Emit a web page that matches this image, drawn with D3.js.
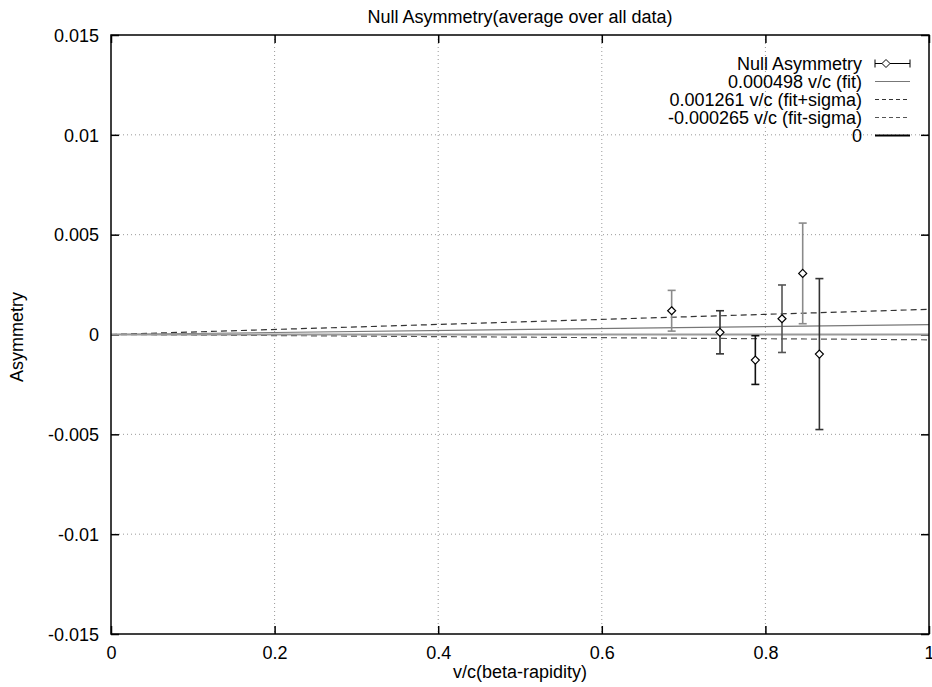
<!DOCTYPE html>
<html>
<head>
<meta charset="utf-8">
<script src="https://cdn.jsdelivr.net/npm/d3@7"></script>
<style>
  body { margin: 0; background: #fff; }
  svg { display: block; font-family: "Liberation Sans", Arial, Helvetica, sans-serif; }
</style>
</head>
<body>
<div id="chart"></div>
<script>
// data
const velocity = [0.6854, 0.7445, 0.7877, 0.8203, 0.8456, 0.866];
const asymmetry = [0.00119, 0.00011, -0.00128, 0.00079, 0.00306, -0.00098];
const asymError = [0.00102, 0.00108, 0.00122, 0.00169, 0.00252, 0.00378];
const pointColors = ['#8a8a8a', '#333', '#111', '#555', '#8a8a8a', '#333'];

const fitNames = ['0.000498 v/c (fit)', '0.001261 v/c (fit+sigma)', '-0.000265 v/c (fit-sigma)', '0'];
const fitSlopes = [0.000498, 0.001261, -0.000265, 0];

const xTicks = [0, 0.2, 0.4, 0.6, 0.8, 1];
const yTicks = [-0.015, -0.01, -0.005, 0, 0.005, 0.01, 0.015];

const W = 932, H = 687;
const margin = {top: 35, right: 3, bottom: 53, left: 111};
const width = W - margin.left - margin.right;
const height = H - margin.top - margin.bottom;
const fontSize = 18;

const svg = d3.select('#chart').append('svg')
    .attr('width', W)
    .attr('height', H);

const g = svg.append('g')
    .attr('transform', 'translate(' + margin.left + ',' + margin.top + ')');

const xScale = d3.scaleLinear().domain([0, 1]).range([0, width]);
const yScale = d3.scaleLinear().domain([-0.015, 0.015]).range([height, 0]);

// grid
g.selectAll('.vgrid')
    .data(xTicks.filter(d => d > 0 && d < 1))
    .enter().append('line')
    .attr('x1', d => xScale(d)).attr('x2', d => xScale(d))
    .attr('y1', 0).attr('y2', height)
    .attr('stroke', '#999').attr('stroke-width', 1)
    .attr('stroke-dasharray', '1,3');

g.selectAll('.hgrid')
    .data(yTicks.filter(d => d > -0.015 && d < 0.015))
    .enter().append('line')
    .attr('x1', 0).attr('x2', width)
    .attr('y1', d => yScale(d)).attr('y2', d => yScale(d))
    .attr('stroke', '#999').attr('stroke-width', 1)
    .attr('stroke-dasharray', '1,3');

// axes (ticks point inward, mirrored); plain hyphen for minus like the original
const fmt = d => String(+d.toPrecision(3));

const xAxis = d3.axisBottom(xScale).tickValues(xTicks).tickSize(-8).tickPadding(14).tickFormat(fmt);
const yAxis = d3.axisLeft(yScale).tickValues(yTicks).tickSize(-8).tickPadding(12).tickFormat(fmt);

const xg = g.append('g').attr('transform', 'translate(0,' + height + ')').call(xAxis);
const yg = g.append('g').call(yAxis);
g.append('g').call(d3.axisTop(xScale).tickValues(xTicks).tickSize(-8).tickFormat(''));
g.append('g').attr('transform', 'translate(' + width + ',0)')
    .call(d3.axisRight(yScale).tickValues(yTicks).tickSize(-8).tickFormat(''));

g.selectAll('.domain').remove();
g.selectAll('.tick line').attr('stroke', '#000').attr('stroke-width', 1.5);
[xg, yg].forEach(a => a.attr('font-size', fontSize).attr('font-family', null));
g.selectAll('.tick text').attr('fill', '#000');
xg.selectAll('.tick text').attr('y', 0).attr('dy', null)
    .attr('transform', 'translate(0,' + (659 - margin.top - height) + ')');
yg.selectAll('.tick text').attr('x', -12).attr('dy', '0.35em');

// fit lines
const lineStyles = [
    {color: '#777', width: 1.2, dash: null},
    {color: '#333', width: 1.2, dash: '6,4'},
    {color: '#555', width: 1.2, dash: '6,4'},
    {color: '#999', width: 2, dash: null}
];

const line = d3.line().x(d => xScale(d[0])).y(d => yScale(d[1]));

fitSlopes.forEach((s, i) => {
    g.append('path')
        .attr('d', line([[0, 0], [1, s]]))
        .attr('fill', 'none')
        .attr('stroke', lineStyles[i].color)
        .attr('stroke-width', lineStyles[i].width)
        .attr('stroke-dasharray', lineStyles[i].dash);
});

// error bars
const pts = velocity.map((v, i) => ({v: v, a: asymmetry[i], e: asymError[i], c: pointColors[i]}));

const eb = g.selectAll('.eb').data(pts).enter().append('g');
eb.append('line')
    .attr('x1', d => xScale(d.v)).attr('x2', d => xScale(d.v))
    .attr('y1', d => yScale(d.a + d.e)).attr('y2', d => yScale(d.a - d.e))
    .attr('stroke', d => d.c).attr('stroke-width', 1.6);
eb.append('line')
    .attr('x1', d => xScale(d.v) - 4).attr('x2', d => xScale(d.v) + 4)
    .attr('y1', d => yScale(d.a + d.e)).attr('y2', d => yScale(d.a + d.e))
    .attr('stroke', d => d.c).attr('stroke-width', 1.6);
eb.append('line')
    .attr('x1', d => xScale(d.v) - 4).attr('x2', d => xScale(d.v) + 4)
    .attr('y1', d => yScale(d.a - d.e)).attr('y2', d => yScale(d.a - d.e))
    .attr('stroke', d => d.c).attr('stroke-width', 1.6);
eb.append('path')
    .attr('d', 'M0,-4L4,0L0,4L-4,0Z')
    .attr('transform', d => 'translate(' + xScale(d.v) + ',' + yScale(d.a) + ')')
    .attr('fill', '#fff').attr('stroke', '#000').attr('stroke-width', 1.2);

// frame
g.append('rect')
    .attr('width', width).attr('height', height)
    .attr('fill', 'none').attr('stroke', '#000').attr('stroke-width', 1.5);

// legend
const legendTextX = 862, sampleX0 = 875, sampleX1 = 910;
const rowY = i => 63.5 + i * 18;

const legendNames = ['Null Asymmetry'].concat(fitNames);
svg.selectAll('.legtext').data(legendNames).enter().append('text')
    .attr('x', legendTextX).attr('y', (d, i) => rowY(i) + 6)
    .attr('text-anchor', 'end').attr('font-size', fontSize)
    .text(d => d);

const leg0 = svg.append('g');
leg0.append('line').attr('x1', sampleX0).attr('x2', sampleX1).attr('y1', rowY(0)).attr('y2', rowY(0))
    .attr('stroke', '#000').attr('stroke-width', 1);
[sampleX0, sampleX1].forEach(x => leg0.append('line')
    .attr('x1', x).attr('x2', x).attr('y1', rowY(0) - 4).attr('y2', rowY(0) + 4)
    .attr('stroke', '#000').attr('stroke-width', 1));
leg0.append('path').attr('d', 'M0,-4L4,0L0,4L-4,0Z')
    .attr('transform', 'translate(886,' + rowY(0) + ')')
    .attr('fill', '#fff').attr('stroke', '#000').attr('stroke-width', 1);

const legendLineStyles = [
    {color: '#777', width: 1.2, dash: null},
    {color: '#333', width: 1, dash: '4,3'},
    {color: '#555', width: 1, dash: '4,3'},
    {color: '#000', width: 2, dash: null}
];
fitNames.forEach((n, i) => {
    svg.append('line')
        .attr('x1', sampleX0).attr('x2', sampleX1)
        .attr('y1', rowY(i + 1)).attr('y2', rowY(i + 1))
        .attr('stroke', legendLineStyles[i].color)
        .attr('stroke-width', legendLineStyles[i].width)
        .attr('stroke-dasharray', legendLineStyles[i].dash);
});

// title and axis labels
svg.append('text').attr('x', margin.left + width / 2).attr('y', 23)
    .attr('text-anchor', 'middle').attr('font-size', fontSize)
    .text('Null Asymmetry(average over all data)');

svg.append('text').attr('x', margin.left + width / 2).attr('y', 678)
    .attr('text-anchor', 'middle').attr('font-size', fontSize)
    .text('v/c(beta-rapidity)');

svg.append('text')
    .attr('transform', 'translate(23,' + 337 + ') rotate(-90)')
    .attr('text-anchor', 'middle').attr('font-size', fontSize)
    .text('Asymmetry');
</script>
</body>
</html>
